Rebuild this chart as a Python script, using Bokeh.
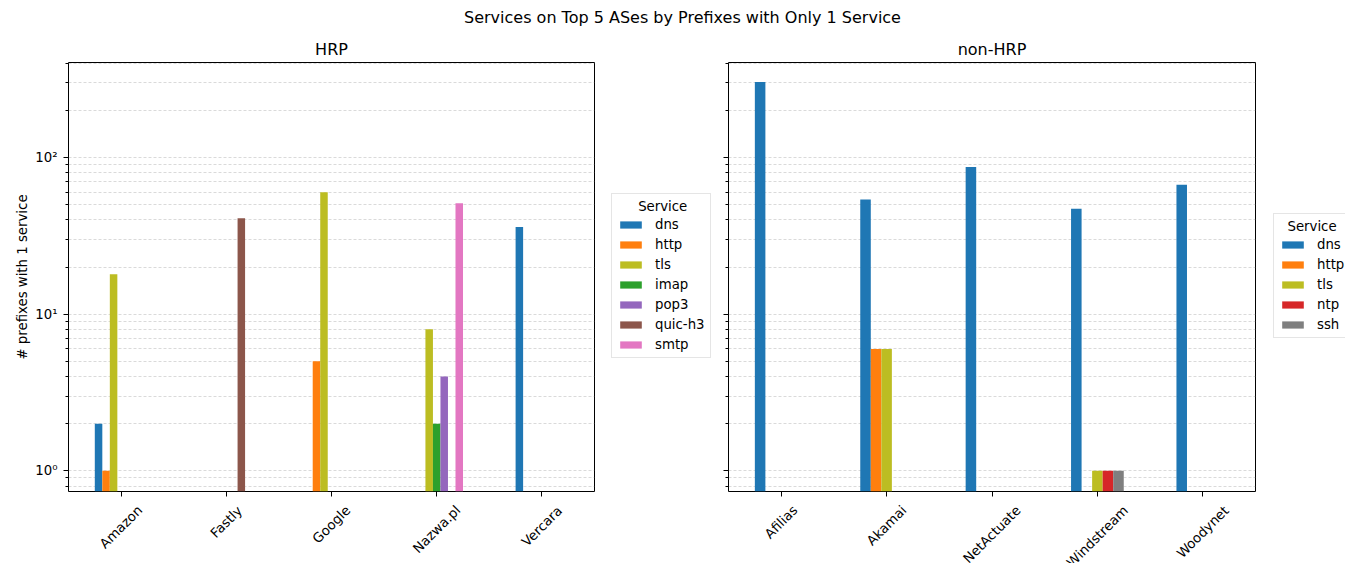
import math
from bokeh.plotting import figure
from bokeh.models import (Range1d, FixedTicker, CustomJSTickFormatter, Label,
                          Legend, LegendItem, ColumnDataSource)
from bokeh.layouts import column, row
from bokeh.embed import file_html
from bokeh.resources import INLINE

FONT = "DejaVu Sans"

# ---------------- data ----------------
suptitle = "Services on Top 5 ASes by Prefixes with Only 1 Service"
y_label = "# prefixes with 1 service"
legend_title = "Service"

hrp_title = "HRP"
hrp_asns = ["Amazon", "Fastly", "Google", "Nazwa.pl", "Vercara"]
hrp_services = ["dns", "http", "tls", "imap", "pop3", "quic-h3", "smtp"]
hrp_dns = [2, 0, 0, 0, 36]
hrp_http = [1, 0, 5, 0, 0]
hrp_tls = [18, 0, 60, 8, 0]
hrp_imap = [0, 0, 0, 2, 0]
hrp_pop3 = [0, 0, 0, 4, 0]
hrp_quic_h3 = [0, 41, 0, 0, 0]
hrp_smtp = [0, 0, 0, 51, 0]

nonhrp_title = "non-HRP"
nonhrp_asns = ["Afilias", "Akamai", "NetActuate", "Windstream", "Woodynet"]
nonhrp_services = ["dns", "http", "tls", "ntp", "ssh"]
nonhrp_dns = [303, 54, 87, 47, 67]
nonhrp_http = [0, 6, 0, 0, 0]
nonhrp_tls = [0, 6, 0, 1, 0]
nonhrp_ntp = [0, 0, 0, 1, 0]
nonhrp_ssh = [0, 0, 0, 1, 0]

service_colors = {"dns": "#1f77b4", "http": "#ff7f0e", "tls": "#bcbd22",
                  "imap": "#2ca02c", "pop3": "#9467bd", "quic-h3": "#8c564b",
                  "smtp": "#e377c2", "ntp": "#d62728", "ssh": "#7f7f7f"}

major_ticks = [1, 10, 100]
minor_ticks = [0.8, 0.9, 2, 3, 4, 5, 6, 7, 8, 9, 20, 30, 40, 50, 60, 70, 80, 90, 200, 300, 400]

hrp_values = [hrp_dns, hrp_http, hrp_tls, hrp_imap, hrp_pop3, hrp_quic_h3, hrp_smtp]
nonhrp_values = [nonhrp_dns, nonhrp_http, nonhrp_tls, nonhrp_ntp, nonhrp_ssh]

# ---------------- layout constants ----------------
TOP_H = 32
ROW_H = 563 - TOP_H          # 531
PLOT_H = 470                 # canvas of plot: frame top at 30, frame bottom at 459
LBL_H = ROW_H - PLOT_H       # 61
B_TOP = 30
B_BOT = PLOT_H - B_TOP - 429  # 11

y_range = Range1d(0.738, 404)

# approx DejaVu Sans advance widths (em)
CW = {"A": .684, "F": .575, "G": .776, "N": .748, "V": .684, "W": .989, "E": .632,
      "T": .611, "a": .613, "c": .550, "d": .635, "e": .615, "f": .352, "g": .635,
      "i": .278, "k": .579, "l": .278, "m": .974, "n": .634, "o": .612, "p": .635,
      "r": .411, "s": .521, "t": .392, "u": .634, "w": .818, "y": .592, "z": .525,
      ".": .318, "-": .361}


def text_width(s, px):
    return sum(CW.get(ch, 0.6) for ch in s) * px


sup_fmt = CustomJSTickFormatter(code="""
const sup = {'0':'\u2070','1':'\u00b9','2':'\u00b2','3':'\u00b3','-':'\u207b'};
const e = Math.round(Math.log10(tick));
return '10' + String(e).split('').map(c => sup[c]).join('');
""")


def make_panel(title, asns, services, values, b_left, frame_w, b_right, show_ylabels):
    width = b_left + frame_w + b_right
    x_range = Range1d(-0.5, len(asns) - 0.5)
    p = figure(width=width, height=PLOT_H, y_axis_type="log", y_range=y_range,
               x_range=x_range, toolbar_location=None, output_backend="svg",
               min_border_left=b_left, min_border_right=b_right,
               min_border_top=B_TOP, min_border_bottom=B_BOT)
    p.border_fill_color = "white"
    p.outline_line_color = "black"
    p.outline_line_width = 1

    p.title.text = title
    p.title.align = "center"
    p.title.text_font = FONT
    p.title.text_font_size = "16px"
    p.title.text_font_style = "normal"
    p.title.text_color = "black"
    p.title.standoff = 7

    yt = FixedTicker(ticks=major_ticks, minor_ticks=minor_ticks)
    p.yaxis.ticker = yt
    p.ygrid.ticker = yt
    p.yaxis.axis_line_color = None
    p.yaxis.major_tick_out = 5
    p.yaxis.major_tick_in = 0
    p.yaxis.minor_tick_out = 3
    p.yaxis.minor_tick_in = 0
    p.yaxis.major_tick_line_color = "black"
    p.yaxis.minor_tick_line_color = "black"
    if show_ylabels:
        p.yaxis.formatter = sup_fmt
        p.yaxis.major_label_text_font = FONT
        p.yaxis.major_label_text_font_size = "13.3px"
        p.yaxis.major_label_text_color = "black"
        p.yaxis.major_label_standoff = 6
        p.yaxis.axis_label = y_label
        p.yaxis.axis_label_text_font = FONT
        p.yaxis.axis_label_text_font_size = "13.3px"
        p.yaxis.axis_label_text_font_style = "normal"
        p.yaxis.axis_label_text_color = "black"
        p.yaxis.axis_label_standoff = 2
    else:
        p.yaxis.formatter = CustomJSTickFormatter(code="return '';")
        p.yaxis.major_label_text_font_size = "1px"
        p.yaxis.major_label_standoff = 0

    p.xaxis.ticker = FixedTicker(ticks=list(range(len(asns))), minor_ticks=[])
    p.xaxis.formatter = CustomJSTickFormatter(code="return '';")
    p.xaxis.axis_line_color = None
    p.xaxis.major_tick_out = 5
    p.xaxis.major_tick_in = 0
    p.xaxis.major_tick_line_color = "black"
    p.xaxis.minor_tick_line_color = None
    p.xaxis.major_label_text_font_size = "1px"
    p.xaxis.major_label_standoff = 0

    p.xgrid.visible = False
    p.ygrid.grid_line_color = "#b0b0b0"
    p.ygrid.grid_line_alpha = 0.6
    p.ygrid.grid_line_dash = "3 2"
    p.ygrid.grid_line_width = 0.8
    p.ygrid.minor_grid_line_color = "#b0b0b0"
    p.ygrid.minor_grid_line_alpha = 0.6
    p.ygrid.minor_grid_line_dash = "3 2"
    p.ygrid.minor_grid_line_width = 0.8

    k = len(services)
    bw = 0.5 / k
    for i, (svc, vals) in enumerate(zip(services, values)):
        xs = [j - 0.25 + (i + 0.5) * bw for j, v in enumerate(vals) if v > 0]
        tops = [v for v in vals if v > 0]
        src = ColumnDataSource(dict(x=xs, top=tops, bottom=[1e-3] * len(xs)))
        p.vbar(x="x", top="top", bottom="bottom", width=bw, source=src,
               fill_color=service_colors[svc], line_color=None)

    # strip below the plot carrying the rotated category names
    lab = figure(width=width, height=LBL_H, x_range=x_range, y_range=Range1d(LBL_H, 0),
                 toolbar_location=None, output_backend="svg",
                 min_border_left=b_left, min_border_right=b_right,
                 min_border_top=0, min_border_bottom=0,
                 x_axis_location=None, y_axis_location=None)
    lab.outline_line_color = None
    lab.grid.visible = False
    for j, name in enumerate(asns):
        w = text_width(name, 13.3)
        off = 11 + 0.3535 * (w + 15.5)   # distance of label centre below frame
        lab.add_layout(Label(x=j, y=off - B_BOT, text=name, angle=math.pi / 4,
                             text_align="center", text_baseline="middle",
                             text_font=FONT, text_font_size="13.3px",
                             text_color="black"))
    return column(p, lab, spacing=0)


def make_legend(services, width, x_off, n_pad):
    lg = figure(width=width, height=ROW_H, x_range=Range1d(0, width),
                y_range=Range1d(0, ROW_H), toolbar_location=None,
                output_backend="svg", min_border=0,
                x_axis_location=None, y_axis_location=None)
    lg.outline_line_color = None
    lg.grid.visible = False
    items = []
    for svc in services:
        # swatch-only renderer, placed far outside the visible range
        r = lg.vbar(x=[-5000], top=[-4000], bottom=[-5000], width=1,
                    fill_color=service_colors[svc], line_color=None)
        items.append(LegendItem(label=svc, renderers=[r]))
    n = len(services)
    leg_h = 5 + 16 + 3 + n * 15 + (n - 1) * 5 + 5
    centre = 563 - 276          # centre of plot frames, from page bottom
    leg = Legend(items=items, location=(x_off, centre - leg_h / 2),
                 title="\u00a0" * n_pad + legend_title,
                 title_text_font=FONT, title_text_font_size="13.3px",
                 title_text_font_style="normal", title_text_color="black",
                 title_standoff=3,
                 label_text_font=FONT, label_text_font_size="13.3px",
                 label_text_color="black", label_height=14, label_standoff=11,
                 glyph_width=27, glyph_height=9, spacing=5, padding=5, margin=0,
                 border_line_color="#cccccc", border_line_width=1,
                 background_fill_color="white", background_fill_alpha=0.8)
    lg.add_layout(leg, "center")
    return lg


left = make_panel(hrp_title, hrp_asns, hrp_services, hrp_values, 68, 526, 8, True)
left_leg = make_legend(hrp_services, 116, 9, 5)
right = make_panel(nonhrp_title, nonhrp_asns, nonhrp_services, nonhrp_values, 10, 527, 8, False)
right_leg = make_legend(nonhrp_services, 82, 10, 2)

top = figure(width=1345, height=TOP_H, x_range=Range1d(0, 1345), y_range=Range1d(TOP_H, 0),
             toolbar_location=None, output_backend="svg", min_border=0,
             x_axis_location=None, y_axis_location=None)
top.outline_line_color = None
top.grid.visible = False
top.add_layout(Label(x=682, y=17, text=suptitle, text_align="center",
                     text_baseline="alphabetic", text_font=FONT,
                     text_font_size="16px", text_color="black"))

layout = column(top, row(left, left_leg, right, right_leg, spacing=0), spacing=0)

with open("out.html", "w") as f:
    f.write(file_html(layout, INLINE))
